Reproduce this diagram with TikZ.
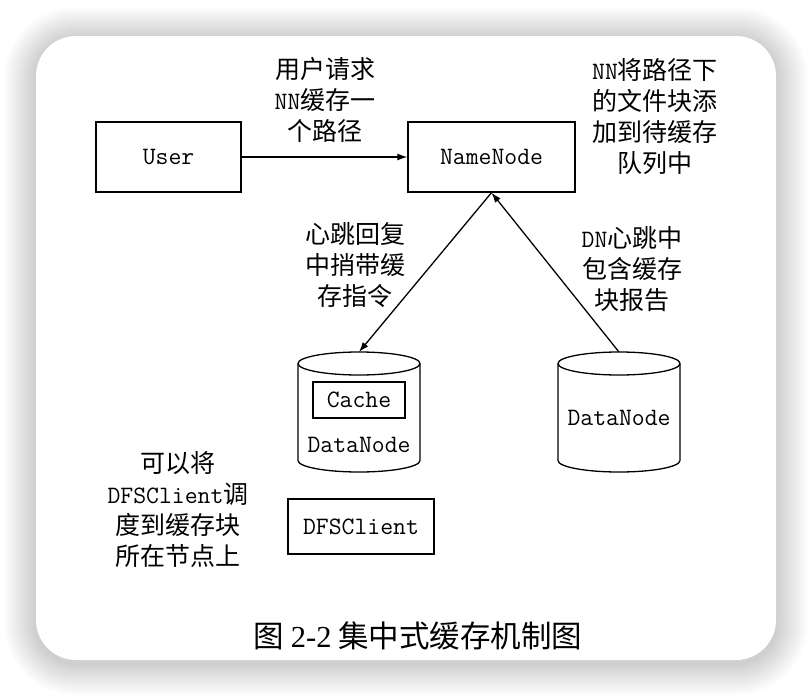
\documentclass[tikz,border=0pt]{standalone}
\usepackage{fontspec}
\newfontfamily\cjk{Noto Sans CJK SC}
\newfontfamily\capserif{Liberation Serif}
\usetikzlibrary{arrows.meta}

\begin{document}
\begin{tikzpicture}[x=1pt,y=-1pt,thick,>={Latex[length=10pt,width=7pt]},line width=1.3pt]
  \tikzstyle{block}=[draw,rectangle,inner sep=0pt,font=\fontsize{25}{30}\selectfont\ttfamily]
  \tikzstyle{word}=[font=\fontsize{25}{30}\selectfont\ttfamily]
  \tikzstyle{note}=[align=center,font=\cjk\fontsize{25}{31}\selectfont]
  \def\r{40}	% corner radius of the card
  \def\dy{3}	% drop of the shadow
  \def\rx{61}	% half width of the DataNode drums
  \def\ry{11.5}	% half height of their end ellipses
  % page, shadow and card
  \useasboundingbox (0,0) rectangle (812,696);
  \fill[white] (0,0) rectangle (812,696);
  \foreach \s in {2,4,...,32}
    \fill[black,opacity=.013,rounded corners=\r+\s] (36-\s,36-\s+\dy) rectangle (776+\s,660+\s+\dy);
  \fill[white,rounded corners=\r] (36,36) rectangle (776,660);

  \node[block,minimum width=145pt,minimum height=70pt] (user) at (168.5,157) {User};
  \node[block,minimum width=167pt,minimum height=70pt] (nn) at (491.5,157) {NameNode};

  % the two DataNode drums
  \foreach \cx/\nm in {359/dn1,619/dn2} {
    \draw (\cx,352+\ry) ellipse [x radius=\rx, y radius=\ry];
    \draw (\cx-\rx,352+\ry) -- (\cx-\rx,472-\ry)
      arc[start angle=180,end angle=0,x radius=\rx,y radius=\ry] -- (\cx+\rx,352+\ry);
    \coordinate (\nm) at (\cx,352);
  }
  \node[block,minimum width=92pt,minimum height=36pt] (cache) at (359,400) {Cache};
  \node[word] (dn1txt) at (359,445) {DataNode};
  \node[word] (dn2txt) at (619,418) {DataNode};
  \node[block,minimum width=146pt,minimum height=55pt] (client) at (361,526.5) {DFSClient};

  \draw[->] (user) -- (nn);
  \draw[->] (nn.south) -- (dn1);
  \draw[->] (dn2) -- (nn.south);

  \node[note] (req) at (325,100) {用户请求\\\texttt{NN}缓存一\\个路径};
  \node[note] (queue) at (655,117) {\texttt{NN}将路径下\\的文件块添\\加到待缓存\\队列中};
  \node[note] (reply) at (355,265) {心跳回复\\中捎带缓\\存指令};
  \node[note] (report) at (632,269) {\texttt{DN}心跳中\\包含缓存\\块报告};
  \node[note] (sched) at (178,510) {可以将\\\texttt{DFSClient}调\\度到缓存块\\所在节点上};
  \node[font=\cjk\fontsize{30.5}{35}\selectfont] (cap) at (418,636) {图 {\capserif 2-2} 集中式缓存机制图};
\end{tikzpicture}
\end{document}
